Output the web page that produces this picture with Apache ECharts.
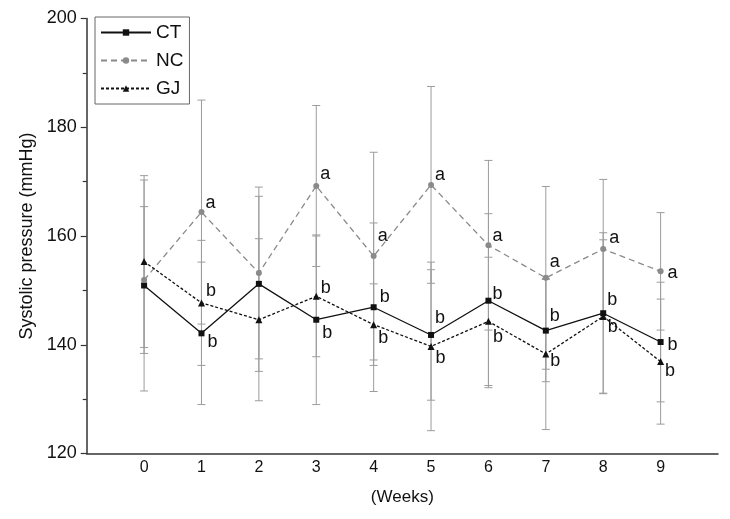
<!DOCTYPE html>
<html>
<head>
<meta charset="utf-8">
<script src="https://cdn.jsdelivr.net/npm/echarts@6/dist/echarts.min.js"></script>
<style>html,body{margin:0;padding:0;background:#fff}#c{width:730px;height:519px}</style>
</head>
<body>
<div id="c"></div>
<script>
// ---- data ----
const weeks = [0, 1, 2, 3, 4, 5, 6, 7, 8, 9];
const seriesNames = ['CT', 'NC', 'GJ'];
const ctMean = [150.9, 142.1, 151.2, 144.6, 146.9, 141.8, 148.1, 142.6, 145.8, 140.5];
const ctSD   = [19.4, 13.1, 16.1, 15.6, 15.5, 12.0, 16.0, 9.4, 14.8, 11.0];
const ncMean = [151.9, 164.4, 153.2, 169.2, 156.3, 169.4, 158.3, 152.3, 157.6, 153.5];
const ncSD   = [13.5, 20.6, 15.8, 14.8, 19.1, 18.1, 15.6, 16.8, 12.8, 10.8];
const gjMean = [155.3, 147.7, 144.6, 148.9, 143.7, 139.7, 144.3, 138.3, 145.2, 136.9];
const gjSD   = [15.8, 11.5, 14.9, 11.1, 7.5, 15.5, 11.8, 13.9, 14.1, 11.5];
const ctLetters = ['', 'b', '', 'b', 'b', 'b', 'b', 'b', 'b', 'b'];
const ncLetters = ['', 'a', '', 'a', 'a', 'a', 'a', 'a', 'a', 'a'];
const gjLetters = ['', 'b', '', 'b', 'b', 'b', 'b', 'b', 'b', 'b'];
const yTicks = [120, 140, 160, 180, 200];

// ---- label placement (style only) ----
const ctDy = [0, 9, 0, 13, -10, -17, -7, -15, -13, 3];
const ncDy = [0, -9, 0, -12, -20, -10, -9, -16, -11, 2];
const gjDy = [0, -12, 0, -8, 13, 12, 16, 7, 11, 9];
const ncDx = [0, 0, 0, 0, 0, 0, 0, 0, 2, 3];
const ctDx = [0, 2, 0, 2, 2, 0, 0, 0, 0, 3];

const FONT = '"Liberation Sans", Arial, sans-serif';

function lineData(mean, letters, dy, dx) {
  return weeks.map((w, i) => ({
    value: [w, mean[i]],
    label: {
      show: letters[i] !== '',
      formatter: letters[i],
      position: 'right',
      distance: 1,
      offset: [dx ? dx[i] : 0, dy[i]],
      fontSize: 18,
      fontFamily: FONT,
      color: '#111'
    }
  }));
}
function errData(mean, sd) {
  return weeks.map((w, i) => [w, mean[i] - sd[i], mean[i] + sd[i]]);
}
function renderErr(params, api) {
  const x = api.value(0);
  const top = api.coord([x, api.value(2)]);
  const bot = api.coord([x, api.value(1)]);
  const h = 4;
  const st = { stroke: '#9c9c9c', lineWidth: 1, fill: null };
  return {
    type: 'group',
    children: [
      { type: 'line', shape: { x1: top[0], y1: top[1], x2: bot[0], y2: bot[1] }, style: st },
      { type: 'line', shape: { x1: top[0] - h, y1: top[1], x2: top[0] + h, y2: top[1] }, style: st },
      { type: 'line', shape: { x1: bot[0] - h, y1: bot[1], x2: bot[0] + h, y2: bot[1] }, style: st }
    ]
  };
}
function errSeries(mean, sd) {
  return {
    type: 'custom', renderItem: renderErr, data: errData(mean, sd), z: 1,
    silent: true, encode: { x: 0, y: [1, 2] }
  };
}

const chart = echarts.init(document.getElementById('c'), null, { renderer: 'canvas' });
chart.setOption({
  animation: false,
  backgroundColor: '#fff',
  grid: { left: 86.7, right: 12, top: 18.5, bottom: 65.5, containLabel: false },
  legend: {
    left: 95, top: 17,
    orient: 'vertical',
    data: seriesNames,
    itemWidth: 50, itemHeight: 8, itemGap: 9,
    padding: [6, 6, 6, 5],
    borderColor: '#666', borderWidth: 1,
    textStyle: { fontSize: 19, fontFamily: FONT, color: '#111' }
  },
  xAxis: {
    type: 'value', min: -1, max: 10, interval: 1,
    name: '(Weeks)', nameLocation: 'middle', nameGap: 35,
    nameTextStyle: { fontSize: 17, fontFamily: FONT, color: '#111' },
    axisLine: { onZero: false, lineStyle: { color: '#333', width: 1.5 } },
    axisTick: { show: false },
    splitLine: { show: false },
    axisLabel: {
      fontSize: 16, fontFamily: FONT, color: '#111', margin: 6,
      formatter: v => (weeks.indexOf(v) >= 0 ? String(v) : '')
    }
  },
  yAxis: {
    type: 'value', min: yTicks[0], max: yTicks[yTicks.length - 1], interval: 20,
    name: 'Systolic pressure (mmHg)', nameLocation: 'middle', nameGap: 50,
    nameTextStyle: { fontSize: 18, fontFamily: FONT, color: '#111' },
    axisLine: { show: true, onZero: false, lineStyle: { color: '#333', width: 1.5 } },
    axisTick: { show: true, length: 6, inside: false, lineStyle: { color: '#333', width: 1.2 } },
    minorTick: { show: true, splitNumber: 2, length: 4, lineStyle: { color: '#333', width: 1.2 } },
    splitLine: { show: false },
    axisLabel: { fontSize: 18, fontFamily: FONT, color: '#111', margin: 10 }
  },
  series: [
    errSeries(ctMean, ctSD),
    errSeries(ncMean, ncSD),
    errSeries(gjMean, gjSD),
    {
      name: 'CT', type: 'line', z: 3,
      data: lineData(ctMean, ctLetters, ctDy, ctDx),
      symbol: 'rect', symbolSize: 6,
      lineStyle: { color: '#111', width: 1.3, type: 'solid' },
      itemStyle: { color: '#111' }
    },
    {
      name: 'NC', type: 'line', z: 3,
      data: lineData(ncMean, ncLetters, ncDy, ncDx),
      symbol: 'circle', symbolSize: 6,
      lineStyle: { color: '#8a8a8a', width: 1.3, type: [6, 4] },
      itemStyle: { color: '#8a8a8a' }
    },
    {
      name: 'GJ', type: 'line', z: 3,
      data: lineData(gjMean, gjLetters, gjDy, null),
      symbol: 'triangle', symbolSize: 7,
      lineStyle: { color: '#111', width: 1.3, type: [3, 2] },
      itemStyle: { color: '#111' }
    }
  ]
});
</script>
</body>
</html>
